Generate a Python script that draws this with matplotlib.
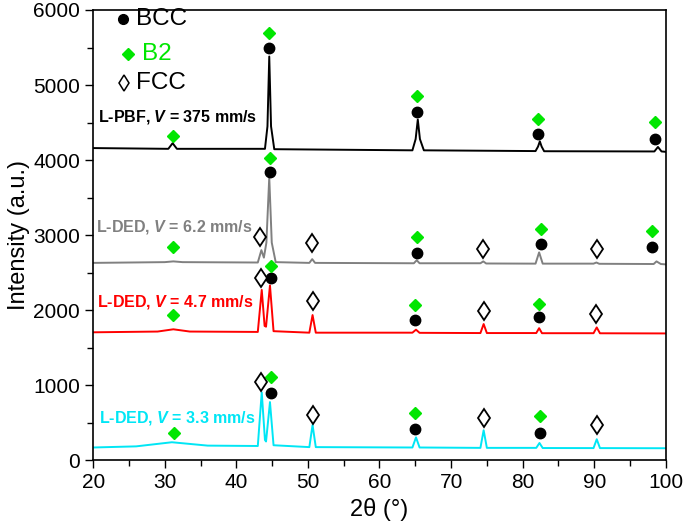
import numpy as np
import matplotlib
matplotlib.use("Agg")
import matplotlib.pyplot as plt

plt.rcParams['font.family'] = ['Liberation Sans', 'DejaVu Sans']
plt.rcParams['mathtext.fontset'] = 'custom'
plt.rcParams['mathtext.rm'] = 'Liberation Sans'
plt.rcParams['mathtext.bfit'] = 'Liberation Sans:italic:bold'

# XRD patterns, key points (2theta, intensity)
pbf_tt = [20, 30.5, 31.1, 31.7, 44.0, 44.35, 44.6, 44.85, 45.3, 64.6, 65.05, 65.35, 65.65, 66.2,
          81.8, 82.15, 82.4, 82.65, 83.0, 98.4, 98.9, 99.4, 100]
pbf_i = [4160, 4150, 4225, 4150, 4150, 4450, 5380, 4450, 4145, 4130, 4280, 4540, 4280, 4130,
         4120, 4180, 4250, 4180, 4118, 4115, 4175, 4115, 4110]

ded62_tt = [20, 30, 31.2, 32.5, 43.0, 43.5, 43.85, 44.2, 44.6, 44.95, 45.5, 50.2, 50.6, 51.0,
            64.8, 65.2, 65.6, 74.1, 74.5, 74.9, 81.8, 82.3, 82.8, 89.9, 90.3, 90.7, 98.3, 98.7, 99.3, 100]
ded62_i = [2630, 2640, 2650, 2640, 2635, 2800, 2700, 2900, 3770, 2900, 2640, 2630, 2680, 2630,
           2625, 2665, 2625, 2625, 2650, 2622, 2620, 2770, 2620, 2620, 2635, 2618, 2615, 2650, 2615, 2610]

ded47_tt = [20, 29, 31.2, 33.5, 43.0, 43.55, 43.95, 44.15, 44.7, 45.2, 50.2, 50.65, 51.1,
            64.6, 65.1, 65.6, 74.1, 74.55, 75.0, 81.9, 82.3, 82.7, 89.9, 90.35, 90.8, 100]
ded47_i = [1705, 1715, 1745, 1715, 1710, 2270, 1790, 1780, 2330, 1720, 1700, 1935, 1700,
           1700, 1740, 1698, 1695, 1815, 1695, 1695, 1760, 1693, 1693, 1770, 1692, 1690]

ded33_tt = [20, 26, 31, 36, 43.0, 43.55, 44.0, 44.15, 44.7, 45.2, 50.2, 50.65, 51.1,
            64.6, 65.1, 65.6, 74.1, 74.55, 75.0, 81.9, 82.35, 82.8, 89.9, 90.35, 90.8, 100]
ded33_i = [170, 185, 240, 195, 190, 905, 270, 250, 775, 200, 175, 470, 175,
           170, 305, 170, 165, 400, 165, 165, 230, 163, 162, 280, 162, 160]

# phase markers (2theta, intensity)
bcc_x = [44.6, 65.2, 82.1, 98.5, 44.7, 65.2, 82.5, 98.0, 44.8, 65.0, 82.3, 44.8, 65.0, 82.4]
bcc_y = [5490, 4640, 4345, 4280, 3840, 2760, 2880, 2840, 2427, 1867, 1907, 893, 413, 360]
b2_x = [31.2, 44.6, 65.2, 82.1, 98.5, 31.2, 44.7, 65.2, 82.5, 98.0, 31.2, 44.8, 65.0, 82.3, 31.3, 44.8, 65.0, 82.4]
b2_y = [4320, 5693, 4853, 4547, 4507, 2840, 4027, 2973, 3080, 3053, 1933, 2587, 2067, 2080, 360, 1107, 627, 587]
fcc_x = [43.3, 50.6, 74.4, 90.4, 43.4, 50.7, 74.6, 90.3, 43.5, 50.7, 74.6, 90.4]
fcc_y = [2973, 2893, 2813, 2813, 2427, 2120, 1987, 1947, 1040, 600, 560, 467]

green = '#00e600'
cyan = '#00e6f5'

fig, ax = plt.subplots(figsize=(6.85, 5.26), dpi=100)
fig.subplots_adjust(left=0.136, right=0.972, top=0.981, bottom=0.125)

ax.plot(pbf_tt, pbf_i, color='black', lw=1.4)
ax.plot(ded62_tt, ded62_i, color='#808080', lw=1.4)
ax.plot(ded47_tt, ded47_i, color='red', lw=1.4)
ax.plot(ded33_tt, ded33_i, color=cyan, lw=1.4)

ax.plot(bcc_x, bcc_y, 'o', color='black', ms=7.5, ls='none')
ax.plot(b2_x, b2_y, 'D', color=green, ms=5.8, ls='none')
ax.plot(fcc_x, fcc_y, 'd', mfc='white', mec='black', mew=1.3, ms=9.6, ls='none')

lab_kw = dict(fontsize=11.5, fontweight='bold', va='center')
ax.text(20.7, 4573, r'L-PBF, $\mathbfit{V}$ = 375 mm/s', color='black', **lab_kw)
ax.text(20.4, 3107, r'L-DED, $\mathbfit{V}$ = 6.2 mm/s', color='#808080', **lab_kw)
ax.text(20.5, 2107, r'L-DED, $\mathbfit{V}$ = 4.7 mm/s', color='red', **lab_kw)
ax.text(20.8, 560, r'L-DED, $\mathbfit{V}$ = 3.3 mm/s', color=cyan, **lab_kw)

# phase key
ax.plot([24.1], [5880], 'o', color='black', ms=7)
ax.text(26.0, 5880, 'BCC', fontsize=17.5, va='center')
ax.plot([24.9], [5410], 'D', color=green, ms=5.8)
ax.text(26.8, 5410, 'B2', fontsize=17.5, va='center', color=green)
ax.plot([24.3], [5030], 'd', mfc='white', mec='black', mew=1.1, ms=8)
ax.text(26.0, 5030, 'FCC', fontsize=17.5, va='center')

ax.set_xlim(20, 100)
ax.set_ylim(0, 6000)
ax.set_xticks(np.arange(20, 101, 10))
ax.set_xticks(np.arange(25, 100, 10), minor=True)
ax.set_yticks(np.arange(0, 6001, 1000))
ax.set_yticks(np.arange(500, 6000, 1000), minor=True)
ax.tick_params(which='both', direction='out', top=False, right=False, labelsize=15, width=1)
ax.tick_params(which='major', length=6)
ax.tick_params(which='minor', length=4)
ax.set_xlabel('2θ (°)', fontsize=17, labelpad=4)
ax.set_ylabel('Intensity (a.u.)', fontsize=17, labelpad=2)
for s in ax.spines.values():
    s.set_linewidth(1.2)

fig.savefig('out.png', dpi=100)
